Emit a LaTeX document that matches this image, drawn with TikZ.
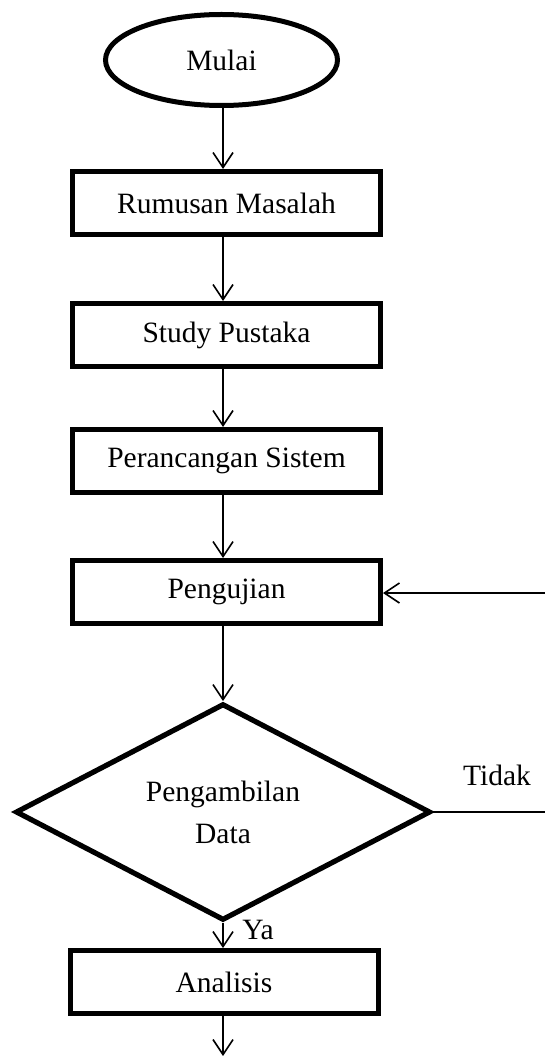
\documentclass[tikz,border=0pt]{standalone}
\usepackage{fontspec}
\setmainfont{Liberation Serif}
\usetikzlibrary{shapes.geometric,arrows.meta}
\begin{document}
\begin{tikzpicture}[x=1pt,y=-1pt,
  every node/.style={font=\fontsize{29.5}{42}\selectfont},
  procbox/.style={draw,line width=5pt,rectangle,minimum width=308pt,minimum height=63pt,inner sep=0pt},
  termbox/.style={draw,line width=5pt,ellipse,minimum width=232pt,minimum height=91pt,inner sep=0pt},
  decbox/.style={draw,line width=5.2pt,diamond,minimum width=415pt,minimum height=195pt,inner sep=0pt,align=center},
  conn/.style={line width=1.6pt,-{Straight Barb[length=15pt,width=20pt,line width=1.6pt]}},
  plain/.style={line width=1.6pt}]
\useasboundingbox (0,0) rectangle (544,1056);
\coordinate (ax) at (223,0);
\node[termbox] (mulai) at (221.5,60) {Mulai};
\node[procbox] (rum) at (226.5,203) {Rumusan Masalah};
\node[procbox] (study) at (226.5,335) {Study Pustaka};
\node[procbox] (peran) at (226.5,461) {Perancangan Sistem};
\node[procbox] (uji) at (226.5,592) {Pengujian};
\node[decbox] (dec) at (223,812) {Pengambilan\\Data};
\node[procbox] (anal) at (224,982) {Analisis};
\coordinate (endb) at (223,1056);
\coordinate (rt1) at (546,812);
\coordinate (rt2) at (546,593);
\node (tidak) at (497,775) {Tidak};
\node (ya) at (258,930) {Ya};
\draw[conn] (mulai.south -| ax) -- (rum.north -| ax);
\draw[conn] (rum.south -| ax) -- (study.north -| ax);
\draw[conn] (study.south -| ax) -- (peran.north -| ax);
\draw[conn] (peran.south -| ax) -- (uji.north -| ax);
\draw[conn] (uji.south -| ax) -- (dec.north);
\draw[conn] (dec.south) -- (anal.north -| ax);
\draw[conn] (anal.south -| ax) -- (endb);
\draw[plain] (dec.east) -- (rt1);
\draw[conn] (rt2) -- (uji.east |- rt2);
\end{tikzpicture}
\end{document}
